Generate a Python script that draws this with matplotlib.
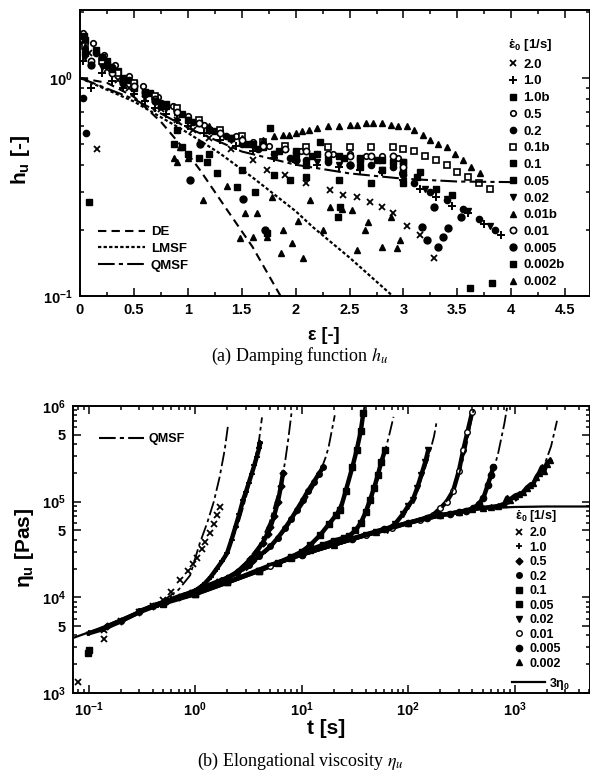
import matplotlib.pyplot as plt
from matplotlib.lines import Line2D
from matplotlib.ticker import LogLocator, MultipleLocator, NullFormatter

plt.rcParams['font.family'] = ['Liberation Sans', 'DejaVu Sans']
plt.rcParams['mathtext.fontset'] = 'custom'
plt.rcParams['mathtext.rm'] = 'Liberation Sans:bold'
plt.rcParams['mathtext.bf'] = 'Liberation Sans:bold'
plt.rcParams['mathtext.it'] = 'Liberation Sans:bold'
plt.rcParams['mathtext.default'] = 'regular'

# ---------------- (a) damping function h_u vs Hencky strain ----------------
# model curves
de_eps = [0.0, 0.25, 0.5, 0.75, 1.0, 1.11, 1.36, 1.6, 1.86]
de_h = [1.0, 0.95, 0.82, 0.63, 0.45, 0.38, 0.25, 0.168, 0.1]
lmsf_eps = [0.0, 0.5, 1.0, 1.3, 1.6, 2.0, 2.16, 2.5, 2.9]
lmsf_h = [1.0, 0.78, 0.56, 0.45, 0.35, 0.245, 0.207, 0.15, 0.1]
qmsf_eps = [0.0, 0.5, 1.0, 1.5, 2.0, 2.5, 3.0, 3.5, 4.0]
qmsf_h = [1.0, 0.8, 0.59, 0.46, 0.4, 0.365, 0.345, 0.335, 0.333]

# measured data, one pair of lists per strain rate
a_eps_2_0 = [0.02, 0.08, 0.16, 0.25, 0.35, 0.45, 0.6, 0.75, 0.9, 1.05, 1.2, 1.4, 1.6, 1.73, 1.9, 2.1,
             2.32, 2.44, 2.57, 2.69, 2.8, 2.9, 3.03, 3.15, 3.28]
a_h_2_0 = [1.45, 1.3, 0.47, 1.1, 0.98, 0.9, 0.8, 0.72, 0.64, 0.58, 0.53, 0.47, 0.42, 0.38, 0.36, 0.33,
           0.306, 0.29, 0.285, 0.27, 0.256, 0.24, 0.21, 0.19, 0.149]
a_eps_1_0 = [0.03, 0.1, 0.2, 0.3, 0.4, 0.5, 0.6, 0.7, 0.8, 0.9, 1.0, 1.15, 1.3, 1.45, 1.6, 1.8, 2.0, 2.2,
             2.4, 2.6, 2.8, 3.0, 3.15, 3.3, 3.45, 3.6, 3.75, 3.9]
a_h_1_0 = [1.2, 0.9, 1.05, 0.97, 0.9, 0.84, 0.78, 0.73, 0.68, 0.64, 0.6, 0.56, 0.52, 0.49, 0.46, 0.43,
           0.41, 0.4, 0.39, 0.38, 0.37, 0.34, 0.31, 0.285, 0.26, 0.24, 0.215, 0.19]
a_eps_1_0b = [0.05, 0.15, 0.25, 0.35, 0.5, 0.65, 0.8, 0.95, 1.1, 1.25, 1.4, 1.55, 1.7, 1.85, 2.0, 2.15,
              2.3, 2.45, 2.6, 2.75, 2.9, 3.0]
a_h_1_0b = [1.5, 1.35, 1.2, 1.08, 0.95, 0.85, 0.76, 0.68, 0.62, 0.57, 0.53, 0.5, 0.48, 0.46, 0.45, 0.44,
            0.43, 0.43, 0.42, 0.42, 0.41, 0.41]
a_eps_0_5 = [0.03, 0.12, 0.22, 0.32, 0.45, 0.58, 0.72, 0.86, 1.0, 1.15, 1.3, 1.45, 1.6, 1.75, 1.9, 2.05,
             2.2, 2.35, 2.5, 2.65, 2.8, 2.95, 2.99]
a_h_0_5 = [1.6, 1.45, 1.28, 1.15, 1.02, 0.92, 0.82, 0.74, 0.67, 0.61, 0.57, 0.54, 0.51, 0.49, 0.47, 0.46,
           0.45, 0.45, 0.45, 0.44, 0.44, 0.43, 0.367]
a_eps_0_2 = [0.03, 0.06, 0.15, 0.3, 0.45, 0.6, 0.75, 0.9, 1.05, 1.2, 1.35, 1.5, 1.65, 1.8, 1.95, 2.1,
             2.3, 2.5, 2.7, 2.9, 3.0, 3.1, 3.25, 3.4, 3.55, 3.7, 3.85]
a_h_0_2 = [0.81, 0.56, 1.3, 1.12, 0.98, 0.86, 0.77, 0.7, 0.63, 0.58, 0.54, 0.5, 0.47, 0.45, 0.43, 0.42,
           0.41, 0.4, 0.4, 0.39, 0.36, 0.33, 0.3, 0.275, 0.25, 0.225, 0.2]
a_eps_0_1b = [0.05, 0.2, 0.35, 0.5, 0.7, 0.9, 1.1, 1.3, 1.5, 1.7, 1.9, 2.1, 2.3, 2.5, 2.7, 2.9, 3.0,
              3.1, 3.2, 3.3, 3.4, 3.5, 3.6, 3.7, 3.8]
a_h_0_1b = [1.4, 1.2, 1.05, 0.95, 0.83, 0.73, 0.64, 0.58, 0.54, 0.51, 0.49, 0.48, 0.48, 0.48, 0.48, 0.48,
            0.47, 0.46, 0.44, 0.42, 0.4, 0.37, 0.35, 0.33, 0.31]
a_eps_0_1 = [0.04, 0.2, 0.4, 0.6, 0.8, 1.0, 1.2, 1.4, 1.6, 1.76, 2.0, 2.2, 2.4, 2.6, 2.8, 3.0, 3.15]
a_h_0_1 = [1.55, 1.25, 1.0, 0.86, 0.74, 0.64, 0.58, 0.53, 0.5, 0.59, 0.46, 0.45, 0.44, 0.43, 0.42, 0.41, 0.37]
a_eps_0_05 = [0.05, 0.25, 0.5, 0.75, 0.87, 0.95, 1.0, 1.1, 1.18, 1.27, 1.46, 1.62, 1.73, 1.95, 2.1, 2.23,
              2.39, 2.41, 2.6, 2.8, 3.0, 3.13]
a_h_0_05 = [1.3, 1.15, 0.9, 0.74, 0.5, 0.48, 0.45, 0.43, 0.41, 0.367, 0.316, 0.3, 0.194, 0.34, 0.4, 0.51,
            0.23, 0.256, 0.39, 0.38, 0.37, 0.35]
a_eps_0_02 = [0.05, 0.2, 0.4, 0.6, 0.8, 1.0, 1.2, 1.4, 1.6, 1.8, 2.0, 2.2, 2.4, 2.6, 2.8, 3.0, 3.2, 3.4,
              3.6, 3.8]
a_h_0_02 = [1.25, 1.12, 0.98, 0.84, 0.73, 0.64, 0.57, 0.52, 0.48, 0.45, 0.43, 0.41, 0.4, 0.39, 0.38, 0.36,
            0.31, 0.28, 0.245, 0.21]
a_eps_0_01b = [0.05, 0.3, 0.6, 0.9, 1.2, 1.5, 1.7, 1.8, 1.88, 1.94, 2.0, 2.06, 2.12, 2.2, 2.3, 2.4, 2.5,
               2.57, 2.65, 2.72, 2.8, 2.88, 2.95, 3.03, 3.1, 3.18, 3.25, 3.32, 3.4, 3.48, 3.55, 3.63, 3.71]
a_h_0_01b = [1.4, 1.1, 0.85, 0.7, 0.6, 0.53, 0.52, 0.54, 0.55, 0.55, 0.56, 0.57, 0.58, 0.59, 0.6, 0.6,
             0.61, 0.61, 0.62, 0.62, 0.62, 0.61, 0.6, 0.6, 0.58, 0.55, 0.52, 0.5, 0.48, 0.45, 0.42, 0.39, 0.367]
a_eps_0_01 = [0.1, 0.3, 0.5, 0.7, 0.9, 1.1, 1.3, 1.5, 1.7, 1.9, 2.1, 2.3, 2.5, 2.7, 2.9, 3.0]
a_h_0_01 = [1.2, 1.05, 0.92, 0.8, 0.7, 0.62, 0.56, 0.52, 0.49, 0.47, 0.46, 0.45, 0.44, 0.44, 0.44, 0.39]
a_eps_0_005 = [0.1, 0.4, 0.7, 1.02, 1.11, 1.51, 1.72, 2.0, 2.5, 3.17, 3.22, 3.28, 3.32, 3.37, 3.41, 3.53]
a_h_0_005 = [1.15, 0.95, 0.78, 0.34, 0.5, 0.28, 0.2, 0.42, 0.4, 0.207, 0.18, 0.256, 0.168, 0.187, 0.205, 0.23]
a_eps_0_002b = [0.08, 0.3, 0.6, 0.9, 1.2, 1.5, 1.8, 2.1, 2.4, 2.7, 3.0, 3.3, 3.45, 3.62, 3.82]
a_h_0_002b = [0.27, 1.1, 0.85, 0.58, 0.45, 0.38, 0.36, 0.35, 0.34, 0.33, 0.33, 0.31, 0.29, 0.109, 0.115]
a_eps_0_002 = [0.87, 0.9, 0.93, 1.0, 1.14, 1.36, 1.48, 1.53, 1.6, 1.64, 1.73, 1.78, 1.86, 1.88, 1.97, 2.02,
               2.07, 2.13, 2.25, 2.32, 2.43, 2.52, 2.57, 2.64, 2.67, 2.8, 2.88, 2.94, 2.97]
a_h_0_002 = [0.43, 0.41, 0.48, 0.43, 0.275, 0.32, 0.185, 0.24, 0.187, 0.24, 0.187, 0.285, 0.158, 0.2, 0.175,
             0.22, 0.15, 0.276, 0.2, 0.256, 0.25, 0.248, 0.163, 0.2, 0.218, 0.168, 0.23, 0.166, 0.18]

a_labels = ['2.0', '1.0', '1.0b', '0.5', '0.2', '0.1b', '0.1', '0.05', '0.02', '0.01b', '0.01',
            '0.005', '0.002b', '0.002']
a_xticks = [0, 0.5, 1, 1.5, 2, 2.5, 3, 3.5, 4, 4.5]
a_xticklabels = ['0', '0.5', '1', '1.5', '2', '2.5', '3', '3.5', '4', '4.5']

# ---------------- (b) elongational viscosity vs time ----------------
lve_t = [0.0715, 0.1, 0.15, 0.2, 0.3, 0.5, 0.7, 1.0, 1.5, 2, 3, 5, 7, 10, 15, 20, 30, 50, 70, 100,
         150, 200, 300, 500, 700, 1000, 2000, 5100]
lve_eta = [3760, 4300, 5100, 5900, 7100, 8600, 9700, 10800, 12700, 14300, 17000, 21500, 24500, 28000,
           32000, 35500, 41000, 48000, 53000, 60000, 67000, 72000, 78000, 84000, 86500, 88000, 89000, 89000]

b_t_2_0 = [0.08, 0.14, 0.14, 0.2, 0.3, 0.4, 0.5, 0.6, 0.72, 0.85, 0.95, 1.04, 1.15, 1.25, 1.38, 1.5, 1.6, 1.72]
b_eta_2_0 = [1300, 3700, 4600, 5700, 7000, 8200, 9300, 11500, 15000, 19000, 22500, 26000, 32000, 38000,
             47000, 58000, 72000, 87000]
b_t_1_0 = [0.1, 0.14, 0.2, 0.3, 0.45, 0.6, 0.8, 1.0, 1.2, 1.4, 1.6, 1.8, 2.0, 2.2, 2.4, 2.6, 2.83, 3.0,
           3.2, 3.4, 3.6, 3.8, 4.0, 4.1]
b_eta_1_0 = [4200, 4700, 5600, 7000, 8300, 9500, 10600, 11700, 13500, 16300, 20000, 24000, 29000, 40000,
             55000, 74000, 105000, 126000, 158000, 195000, 240000, 295000, 363000, 410000]
b_t_0_5 = [0.15, 0.2, 0.3, 0.4, 0.55, 0.7, 0.9, 1.2, 1.6, 2.0, 2.5, 2.83, 3.3, 3.8, 4.3, 4.8, 5.1, 5.5,
           6.0, 6.4, 6.7]
b_eta_0_5 = [5000, 5700, 7000, 8200, 9200, 10200, 11200, 12800, 14500, 16000, 18500, 21000, 25000, 30000,
             37000, 46000, 54000, 70000, 100000, 145000, 200000]
b_t_0_2 = [0.3, 0.5, 0.8, 1.2, 1.8, 2.5, 3.2, 4.0, 5.1, 6.0, 7.0, 8.0, 9.0, 10.3, 11.5, 13, 14.5, 16]
b_eta_0_2 = [7200, 8800, 10500, 12500, 15000, 18000, 22000, 27000, 34000, 42000, 53000, 66000, 82000,
             105000, 130000, 160000, 195000, 230000]
b_t_0_1_early = [0.099, 0.1]
b_eta_0_1_early = [2600, 2800]
b_t_0_1 = [0.5, 1, 2, 4, 6, 8, 10, 12, 15, 18, 21, 23, 26, 30, 33, 36, 38]
b_eta_0_1 = [8600, 10800, 14300, 19000, 23000, 26500, 30000, 35000, 45000, 58000, 72000,
             81000, 130000, 230000, 350000, 550000, 850000]
b_t_0_05 = [1, 2, 4, 8, 12, 16, 20, 25, 28, 32, 36, 40, 44, 48, 52, 56, 61]
b_eta_0_05 = [10800, 14300, 19000, 26000, 31500, 35500, 39000, 42000, 44000, 50000, 60000, 78000, 105000,
              140000, 190000, 260000, 350000]
b_t_0_02 = [2, 5, 10, 20, 30, 40, 50, 63, 75, 90, 100, 111, 122, 133, 145, 155]
b_eta_0_02 = [14300, 21500, 28000, 35500, 41000, 45000, 48000, 51000, 58000, 75000, 90000, 105000, 140000,
              190000, 260000, 350000]
b_t_0_01 = [5, 10, 20, 40, 70, 100, 130, 170, 200, 230, 265, 300, 330, 360, 400]
b_eta_0_01 = [21500, 28000, 35500, 45000, 53000, 60000, 65000, 72000, 85000, 100000, 130000, 210000,
              350000, 530000, 870000]
b_t_0_005 = [10, 30, 60, 100, 150, 200, 250, 300, 350, 410, 460, 510, 560, 600, 630]
b_eta_0_005 = [28000, 41000, 52000, 60000, 67000, 72000, 75000, 78000, 80000, 85000, 95000, 110000,
               150000, 190000, 230000]
b_t_0_002 = [20, 50, 100, 200, 300, 400, 500, 600, 700, 800, 850, 900, 1000, 1100, 1200, 1300, 1400,
             1500, 1600, 1700, 1800, 1900, 2000, 2150]
b_eta_0_002 = [35500, 48000, 60000, 72000, 78000, 84000, 86000, 88000, 90000, 95000, 110000, 105000,
               115000, 120000, 125000, 140000, 150000, 155000, 180000, 200000, 230000, 210000, 250000, 270000]

# QMSF predictions for each rate
q_t_2_0 = [0.3, 0.5, 0.7, 0.9, 1.1, 1.3, 1.5, 1.7, 1.9, 2.04]
q_eta_2_0 = [7300, 9200, 12000, 17000, 36000, 60000, 100000, 180000, 350000, 630000]
q_t_1_0 = [0.7, 1.0, 1.5, 2.0, 2.5, 3.0, 3.5, 4.0, 4.25]
q_eta_1_0 = [10000, 12000, 17000, 30000, 55000, 110000, 220000, 450000, 760000]
q_t_0_5 = [1.5, 2, 3, 4, 5, 6, 6.7, 7, 7.5, 8.1]
q_eta_0_5 = [13000, 15500, 23000, 35000, 60000, 120000, 200000, 260000, 450000, 900000]
q_t_0_2 = [3, 5, 7, 9, 11, 13, 15, 16, 17, 18, 19.5, 20.5]
q_eta_0_2 = [19000, 32000, 50000, 75000, 105000, 145000, 200000, 250000, 300000, 380000, 600000, 800000]
q_t_0_1 = [10, 15, 20, 25, 30, 35, 39]
q_eta_0_1 = [30000, 45000, 68000, 110000, 230000, 480000, 1000000]
q_t_0_05 = [20, 30, 40, 50, 60, 66, 73]
q_eta_0_05 = [39000, 46000, 70000, 145000, 320000, 480000, 770000]
q_t_0_02 = [60, 80, 100, 120, 140, 160, 175, 186]
q_eta_0_02 = [50000, 62000, 85000, 125000, 200000, 330000, 480000, 700000]
q_t_0_01 = [150, 200, 250, 300, 350, 400, 420]
q_eta_0_01 = [68000, 82000, 115000, 190000, 370000, 800000, 1000000]
q_t_0_005 = [300, 400, 500, 600, 700, 800, 850]
q_eta_0_005 = [78000, 85000, 105000, 170000, 320000, 650000, 970000]
q_t_0_002 = [700, 1000, 1300, 1600, 1900, 2200, 2500]
q_eta_0_002 = [88000, 100000, 130000, 170000, 240000, 380000, 700000]

b_labels = ['2.0', '1.0', '0.5', '0.2', '0.1', '0.05', '0.02', '0.01', '0.005', '0.002']
b_xticks = [0.1, 1, 10, 100, 1000]
b_xticklabels = [r'$10^{-1}$', r'$10^{0}$', r'$10^{1}$', r'$10^{2}$', r'$10^{3}$']
b_yticks = [1e3, 5e3, 1e4, 5e4, 1e5, 5e5, 1e6]
b_yticklabels = [r'$10^{3}$', '5', r'$10^{4}$', '5', r'$10^{5}$', '5', r'$10^{6}$']

bold = {'weight': 'bold', 'size': 9.5}
bold9 = {'weight': 'bold', 'size': 9}

fig = plt.figure(figsize=(5.9, 7.8), dpi=100)

# ---------- panel (a) ----------
ax1 = fig.add_axes([80 / 590, 1 - 296 / 780, 510 / 590, 286 / 780])
a_series = [
    (a_eps_2_0, a_h_2_0, dict(marker='x', ms=4.5, mew=1.3)),
    (a_eps_1_0, a_h_1_0, dict(marker='+', ms=5.5, mew=1.4)),
    (a_eps_1_0b, a_h_1_0b, dict(marker='s', ms=4)),
    (a_eps_0_5, a_h_0_5, dict(marker='o', ms=4, mfc='white', mew=1.2)),
    (a_eps_0_2, a_h_0_2, dict(marker='o', ms=4.5)),
    (a_eps_0_1b, a_h_0_1b, dict(marker='s', ms=4.5, mfc='white', mew=1.2)),
    (a_eps_0_1, a_h_0_1, dict(marker='s', ms=5)),
    (a_eps_0_05, a_h_0_05, dict(marker='s', ms=5)),
    (a_eps_0_02, a_h_0_02, dict(marker='v', ms=5)),
    (a_eps_0_01b, a_h_0_01b, dict(marker='^', ms=5)),
    (a_eps_0_01, a_h_0_01, dict(marker='o', ms=4.5, mfc='white', mew=1.2)),
    (a_eps_0_005, a_h_0_005, dict(marker='o', ms=5)),
    (a_eps_0_002b, a_h_0_002b, dict(marker='s', ms=5)),
    (a_eps_0_002, a_h_0_002, dict(marker='^', ms=5)),
]
a_handles = []
for (x, y, st), lab in zip(a_series, a_labels):
    ax1.plot(x, y, ls='none', color='k', mec='k', **st)
    a_handles.append(Line2D([], [], ls='none', color='k', mec='k', label=lab, **st))

l_de, = ax1.plot(de_eps, de_h, color='k', lw=1.5, dashes=(4, 2.5), label='DE')
l_lm, = ax1.plot(lmsf_eps, lmsf_h, color='k', lw=1.6, dashes=(1.5, 1), label='LMSF')
l_qm, = ax1.plot(qmsf_eps, qmsf_h, color='k', lw=1.5, dashes=(8, 2, 2, 2), label='QMSF')

ax1.set_yscale('log')
ax1.set_xlim(0, 4.73)
ax1.set_ylim(0.1, 2.05)
ax1.set_xticks(a_xticks, a_xticklabels, fontweight='bold')
ax1.xaxis.set_minor_locator(MultipleLocator(0.25))
ax1.set_yticks([0.1, 1.0], [r'$10^{-1}$', r'$10^{0}$'], fontweight='bold')
ax1.yaxis.set_minor_locator(LogLocator(subs=range(2, 10)))
ax1.yaxis.set_minor_formatter(NullFormatter())

leg1 = ax1.legend(handles=[l_de, l_lm, l_qm], loc='upper left', bbox_to_anchor=(0.035, 0.245),
                  frameon=False, prop=bold, handlelength=3.6, handletextpad=0.4,
                  labelspacing=0.35, borderpad=0, borderaxespad=0)
ax1.add_artist(leg1)
ax1.legend(handles=a_handles, loc='upper left', bbox_to_anchor=(0.84, 0.905), frameon=False,
           prop=bold, title=r'$\dot{\varepsilon}_0$ [1/s]', title_fontproperties=bold, alignment='left',
           handlelength=0.7, handletextpad=0.45, labelspacing=0.34, borderpad=0, borderaxespad=0)

# ---------- panel (b) ----------
ax2 = fig.add_axes([73 / 590, 1 - 693 / 780, 517 / 590, 287 / 780])
b_series = [
    (b_t_2_0, b_eta_2_0, dict(marker='x', ms=4.5, mew=1.3), False),
    (b_t_1_0, b_eta_1_0, dict(marker='+', ms=5, mew=1.3), True),
    (b_t_0_5, b_eta_0_5, dict(marker='D', ms=3.5), True),
    (b_t_0_2, b_eta_0_2, dict(marker='o', ms=4), True),
    (b_t_0_1, b_eta_0_1, dict(marker='s', ms=4), True),
    (b_t_0_05, b_eta_0_05, dict(marker='s', ms=4), True),
    (b_t_0_02, b_eta_0_02, dict(marker='v', ms=4), True),
    (b_t_0_01, b_eta_0_01, dict(marker='o', ms=4, mfc='white', mew=1.0), True),
    (b_t_0_005, b_eta_0_005, dict(marker='o', ms=4.5), True),
    (b_t_0_002, b_eta_0_002, dict(marker='^', ms=4.5), True),
]
b_handles = []
for (x, y, st, dense), lab in zip(b_series, b_labels):
    ax2.plot(x, y, ls='-' if dense else 'none', lw=3.2, color='k', mec='k', **st)
    b_handles.append(Line2D([], [], ls='none', color='k', mec='k', label=lab, **st))
ax2.plot(b_t_0_1_early, b_eta_0_1_early, ls='none', marker='s', ms=4, color='k')

q_series = [(q_t_2_0, q_eta_2_0), (q_t_1_0, q_eta_1_0), (q_t_0_5, q_eta_0_5), (q_t_0_2, q_eta_0_2),
            (q_t_0_1, q_eta_0_1), (q_t_0_05, q_eta_0_05), (q_t_0_02, q_eta_0_02), (q_t_0_01, q_eta_0_01),
            (q_t_0_005, q_eta_0_005), (q_t_0_002, q_eta_0_002)]
for x, y in q_series:
    ax2.plot(x, y, color='k', lw=1.3, dashes=(8, 2, 2, 2))
l_q2 = Line2D([], [], color='k', lw=1.5, dashes=(8, 2, 2, 2), label='QMSF')

l_lve, = ax2.plot(lve_t, lve_eta, color='k', lw=1.6, label=r'3$\eta_0$')

ax2.set_xscale('log')
ax2.set_yscale('log')
ax2.set_xlim(0.0715, 5100)
ax2.set_ylim(1e3, 1e6)
ax2.set_xticks(b_xticks, b_xticklabels, fontweight='bold')
ax2.xaxis.set_minor_locator(LogLocator(subs=range(2, 10)))
ax2.xaxis.set_minor_formatter(NullFormatter())
ax2.set_yticks(b_yticks, b_yticklabels, fontweight='bold')
ax2.yaxis.set_minor_locator(LogLocator(subs=range(2, 10)))
ax2.yaxis.set_minor_formatter(NullFormatter())

leg_q = ax2.legend(handles=[l_q2], loc='upper left', bbox_to_anchor=(0.05, 0.905), frameon=False,
                   prop=bold9, handlelength=3.6, handletextpad=0.4, borderpad=0, borderaxespad=0)
ax2.add_artist(leg_q)
leg_b = ax2.legend(handles=b_handles, loc='upper left', bbox_to_anchor=(0.855, 0.645), frameon=False,
                   prop=bold9, title=r'$\dot{\varepsilon}_0$ [1/s]', title_fontproperties=bold9,
                   alignment='left', handlelength=0.7, handletextpad=0.45, labelspacing=0.2,
                   borderpad=0, borderaxespad=0)
ax2.add_artist(leg_b)
ax2.legend(handles=[l_lve], loc='upper left', bbox_to_anchor=(0.85, 0.06), frameon=False,
           prop=bold9, handlelength=2.6, handletextpad=0.3, borderpad=0, borderaxespad=0)

for ax in (ax1, ax2):
    ax.tick_params(which='both', direction='in', top=True, right=True, labelsize=10.5, width=1.1)
    ax.tick_params(which='major', length=6, pad=5)
    ax.tick_params(which='minor', length=3)
    for s in ax.spines.values():
        s.set_linewidth(1.4)

# axis titles and captions
fig.text(324 / 590, 1 - 336 / 780, 'ε [-]', ha='center', va='center', fontsize=13, fontweight='bold')
fig.text(20 / 590, 1 - 160 / 780, r'$h_u$ [-]', ha='center', va='center', rotation=90, fontsize=15,
         fontweight='bold')
fig.text(300 / 590, 1 - 356 / 780, r'(a) Damping function $\mathit{h_u}$', ha='center', va='center',
         fontsize=13, family='Liberation Serif', math_fontfamily='stix')
fig.text(326 / 590, 1 - 729 / 780, 't [s]', ha='center', va='center', fontsize=15, fontweight='bold')
fig.text(25 / 590, 1 - 548 / 780, r'$\eta_u$ [Pas]', ha='center', va='center', rotation=90, fontsize=15,
         fontweight='bold')
fig.text(300 / 590, 1 - 761 / 780, r'(b) Elongational viscosity $\mathit{\eta_u}$', ha='center', va='center',
         fontsize=13, family='Liberation Serif', math_fontfamily='stix')

fig.savefig('out.png', dpi=100)
